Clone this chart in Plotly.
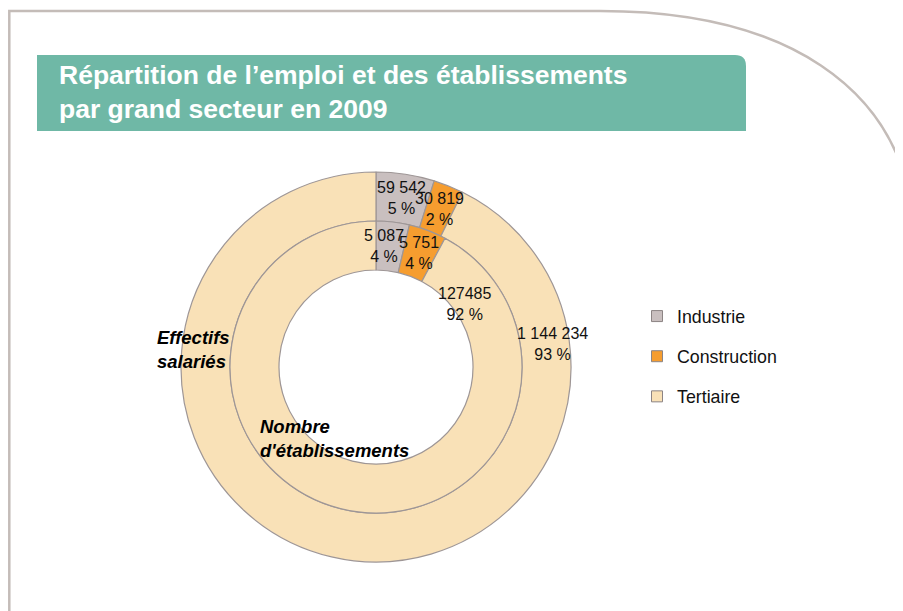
import math
import plotly.graph_objects as go

# ---------------- data ----------------
categories = ["Industrie", "Construction", "Tertiaire"]
effectifs = [59542, 30819, 1144234]          # outer ring: Effectifs salariés
etablissements = [5087, 5751, 127485]        # inner ring: Nombre d'établissements
effectifs_labels = ["59 542", "30 819", "1 144 234"]
etablissements_labels = ["5 087", "5 751", "127485"]
title_lines = ["Répartition de l’emploi et des établissements", "par grand secteur en 2009"]
ring_names = ["Effectifs<br>salariés", "Nombre<br>d'établissements"]

# ---------------- style ----------------
W, H = 903, 611
OFF = 8                      # page body margin offset
colors = ["#c9bfbf", "#f69d2f", "#f9e1b7"]
edge = "#9e9696"
CX, CY = 376, 367            # pie centre in page px
R_OUT, R_MID, R_IN = 195, 146, 97
FONT = "Liberation Sans, Arial, sans-serif"


def px(x):
    return (x - OFF) / W


def py(y):
    return 1 - (y - OFF) / H


def dom(r):
    return dict(x=[px(CX - r), px(CX + r)], y=[py(CY + r), py(CY - r)])


fig = go.Figure()
fig.add_trace(go.Pie(labels=categories, values=effectifs, hole=R_MID / R_OUT,
                     domain=dom(R_OUT), sort=False, direction="clockwise", rotation=0,
                     marker=dict(colors=colors, line=dict(color=edge, width=1.2)),
                     textinfo="none", hoverinfo="label+value+percent", showlegend=False))
fig.add_trace(go.Pie(labels=categories, values=etablissements, hole=R_IN / R_MID,
                     domain=dom(R_MID), sort=False, direction="clockwise", rotation=0,
                     marker=dict(colors=colors, line=dict(color=edge, width=1.2)),
                     textinfo="none", hoverinfo="label+value+percent", showlegend=False))

# legend entries
for i, c in enumerate(categories):
    fig.add_trace(go.Scatter(x=[None], y=[None], mode="markers", name=c,
                             legendgroup=c,
                             marker=dict(symbol="square", size=11, color=colors[i],
                                         line=dict(color="#8c8484", width=1))))


# data labels positioned from the slice geometry
def ring_labels(values, texts, r_a, r_b, override):
    tot = sum(values)
    cum = 0
    anns = []
    for i, v in enumerate(values):
        frac = v / tot
        mid = (cum + frac / 2) * 360
        r = (r_a + r_b) / 2
        if i in override:
            mid, r = override[i]
        cum += frac
        a = math.radians(mid)
        x = CX + r * math.sin(a)
        y = CY - r * math.cos(a)
        pct = round(frac * 100)
        anns.append(dict(x=px(x), y=py(y), xref="paper", yref="paper",
                         text=f"{texts[i]}<br>{pct} %", showarrow=False,
                         xanchor="center", yanchor="middle", align="center",
                         font=dict(family=FONT, size=16, color="#111111")))
    return anns


annotations = []
annotations += ring_labels(effectifs, effectifs_labels, R_MID, R_OUT, {2: (82.6, 178)})
annotations += ring_labels(etablissements, etablissements_labels, R_IN, R_MID,
                           {0: (4.0, 121), 2: (54.7, 109)})

annotations.append(dict(x=px(155), y=py(349), xref="paper", yref="paper",
                        text=f"<b><i>{ring_names[0]}</i></b>", showarrow=False,
                        xanchor="left", yanchor="middle", align="left",
                        font=dict(family=FONT, size=18.5, color="#000000")))
annotations.append(dict(x=px(258), y=py(439), xref="paper", yref="paper",
                        text=f"<b><i>{ring_names[1]}</i></b>", showarrow=False,
                        xanchor="left", yanchor="middle", align="left",
                        font=dict(family=FONT, size=18.5, color="#000000")))

annotations.append(dict(x=px(57), y=py(92), xref="paper", yref="paper",
                        text="<br>".join(title_lines), showarrow=False,
                        xanchor="left", yanchor="middle", align="left",
                        font=dict(family=FONT, size=26.5, color="#ffffff", weight="bold")))

shapes = [
    # outer frame
    dict(type="path", xref="paper", yref="paper", layer="below",
         path=f"M {px(9.3)},{py(650)} L {px(9.3)},{py(11)} L {px(600)},{py(11)} "
              f"C {px(790)},{py(11)} {px(895)},{py(90)} {px(912)},{py(210)}",
         line=dict(color="#c4bcb8", width=2.5)),
    # title banner with rounded top-right corner
    dict(type="path", xref="paper", yref="paper", layer="below",
         path=f"M {px(37)},{py(131)} L {px(37)},{py(55)} L {px(735)},{py(55)} "
              f"Q {px(746)},{py(55)} {px(746)},{py(66)} L {px(746)},{py(131)} Z",
         fillcolor="#6fb8a6", line=dict(width=0)),
]

fig.update_layout(
    width=W, height=H, margin=dict(l=0, r=0, t=0, b=0),
    paper_bgcolor="#ffffff", plot_bgcolor="rgba(0,0,0,0)",
    xaxis=dict(visible=False), yaxis=dict(visible=False),
    showlegend=True,
    legend=dict(x=px(637), y=py(298), xanchor="left", yanchor="top",
                traceorder="grouped", tracegroupgap=14,
                font=dict(family=FONT, size=17.8, color="#111111"),
                bgcolor="rgba(0,0,0,0)"),
    annotations=annotations, shapes=shapes,
)

fig.write_html("out.html")
